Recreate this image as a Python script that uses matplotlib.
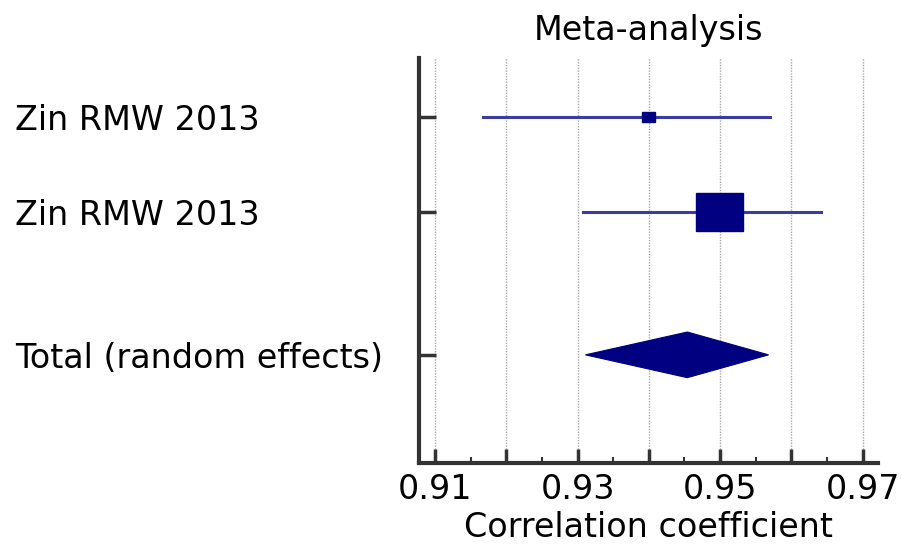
import numpy as np
import matplotlib.pyplot as plt
from matplotlib.patches import Rectangle, Polygon

# study rows
studies = ['Zin RMW 2013', 'Zin RMW 2013']
est = [0.9400, 0.9499]
lo = [0.9167, 0.9307]
hi = [0.9570, 0.9641]
box_w = [0.0018, 0.0065]   # box size follows study weight
box_h = [0.11, 0.40]
# pooled estimate
total_label = 'Total (random effects)'
total_est = 0.9454
total_lo = 0.9311
total_hi = 0.9568

xticks_major = [0.91, 0.92, 0.93, 0.94, 0.95, 0.96, 0.97]
xlabels = ['0.91', '', '0.93', '', '0.95', '', '0.97']
rows = [1, 2, 3.5]

plt.rcParams['font.family'] = ['DejaVu Sans']
fs = 24
fig = plt.figure(figsize=(9.03, 5.45), dpi=100)
ax = fig.add_axes([419/903, 82/545, 459/903, 405/545])

navy = '#000080'
for i in range(len(studies)):
    y = rows[i]
    ax.plot([lo[i], hi[i]], [y, y], color='#3c3c9c', lw=2.2, zorder=3)
    ax.add_patch(Rectangle((est[i] - box_w[i] / 2, y - box_h[i] / 2), box_w[i], box_h[i],
                           facecolor=navy, edgecolor=navy, zorder=4))

yt = rows[2]
ax.add_patch(Polygon([[total_lo, yt], [total_est, yt - 0.24], [total_hi, yt], [total_est, yt + 0.24]],
                     closed=True, facecolor=navy, edgecolor=navy, lw=0.8, zorder=4))

ax.set_xlim(0.90775, 0.97215)
ax.set_ylim(4.637, 0.379)

for g in xticks_major:
    ax.axvline(g, color='#a8a8a8', lw=1.0, ls=(0, (1, 1)), zorder=1)

ax.set_xticks(xticks_major)
ax.set_xticklabels(xlabels, fontsize=fs)
ax.set_xticks([0.915, 0.925, 0.935, 0.945, 0.955, 0.965], minor=True)
ax.tick_params(axis='x', which='major', direction='in', length=10, width=2.5, color='#333333', pad=7)
ax.tick_params(axis='x', which='minor', direction='in', length=4, width=1.5, color='#333333')

ax.set_yticks(rows)
ax.set_yticklabels(studies + [total_label], fontsize=fs, ha='left')
ax.tick_params(axis='y', direction='in', length=12, width=2.5, color='#333333', pad=291)

for s in ['top', 'right']:
    ax.spines[s].set_visible(False)
for s in ['left', 'bottom']:
    ax.spines[s].set_linewidth(3)
    ax.spines[s].set_color('#333333')

ax.set_xlabel('Correlation coefficient', fontsize=fs, labelpad=4)
ax.set_title('Meta-analysis', fontsize=fs, pad=13)

fig.savefig('out.png', dpi=100)
